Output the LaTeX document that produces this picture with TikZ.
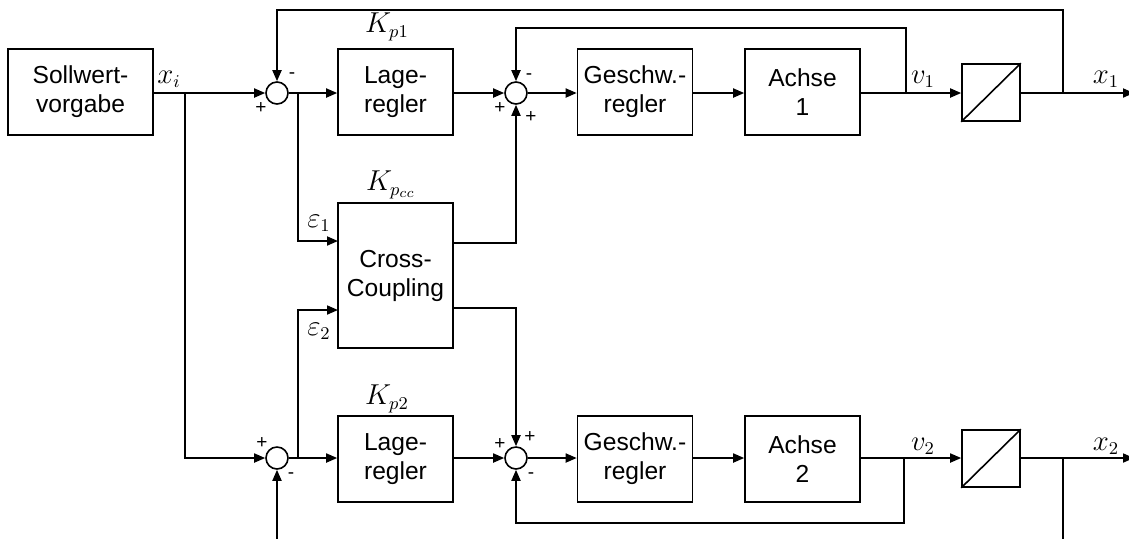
\documentclass[tikz,border=0pt]{standalone}
\usepackage{fontspec}
\setmainfont{Liberation Sans}
\usetikzlibrary{arrows.meta}
\begin{document}
\begin{tikzpicture}[x=0.5pt,y=-0.5pt,
  font=\fontsize{12.3}{14.5}\selectfont,
  blk/.style={draw,line width=0.8pt,minimum width=57.5pt,minimum height=43pt,align=center,inner sep=1pt},
  sumc/.style={draw,circle,line width=0.8pt,minimum size=11pt,inner sep=0pt},
  conv/.style={draw,line width=0.8pt,minimum width=29pt,minimum height=28.5pt,inner sep=0pt},
  ln/.style={line width=0.9pt},
  arr/.style={ln,-{Triangle[length=5.5pt,width=4.5pt]}},
  sgn/.style={font=\fontsize{9.5}{10}\selectfont,inner sep=0pt},
  lbl/.style={inner sep=0pt,font=\fontsize{13.5}{15}\selectfont}]
\useasboundingbox (0,0) rectangle (1129,538);
% blocks
\node[blk,minimum width=72.5pt] (soll) at (80.5,92) {Sollwert-\\vorgabe};
\node[sumc] (s1) at (277,93) {};
\node[blk] (lage1) at (395.5,92) {Lage-\\regler};
\node[sumc] (s3) at (516,93) {};
\node[blk] (gesch1) at (635,92) {Geschw.-\\regler};
\node[blk] (achse1) at (802.5,92) {Achse\\1};
\node[conv] (conv1) at (991,92.5) {};
\draw[line width=0.8pt] (conv1.south west) -- (conv1.north east);
\node[blk,minimum height=72.5pt] (cc) at (395.5,275.5) {Cross-\\Coupling};
\node[sumc] (s2) at (277,458) {};
\node[blk] (lage2) at (395.5,459) {Lage-\\regler};
\node[sumc] (s4) at (516,458) {};
\node[blk] (gesch2) at (635,459) {Geschw.-\\regler};
\node[blk] (achse2) at (802.5,459) {Achse\\2};
\node[conv] (conv2) at (991,458.5) {};
\draw[line width=0.8pt] (conv2.south west) -- (conv2.north east);
% coordinates
\coordinate (b0) at (185,93);
\coordinate (b1) at (298,93);
\coordinate (b2) at (298,458);
\coordinate (v1b) at (906,93);
\coordinate (x1b) at (1063,93);
\coordinate (v2b) at (904,458);
\coordinate (x2b) at (1063,458);
\coordinate (cci1) at (338,241);
\coordinate (cci2) at (338,310);
\coordinate (cco1) at (453,243);
\coordinate (cco2) at (453,308);
\coordinate (out1) at (1134,93);
\coordinate (out2) at (1134,458);
\coordinate (in2) at (277,545);
\coordinate (x2d) at (1063,545);
% top row
\draw[arr] (soll.east |- s1) -- (s1.west);
\draw[arr] (s1.east) -- (lage1.west |- s1);
\draw[arr] (lage1.east |- s3) -- (s3.west);
\draw[arr] (s3.east) -- (gesch1.west |- s3);
\draw[arr] (gesch1.east |- s3) -- (achse1.west |- s3);
\draw[arr] (achse1.east |- s3) -- (conv1.west |- s3);
\draw[arr] (conv1.east |- s3) -- (out1);
\draw[arr] (v1b) -- (906,28) -| (s3.north);
\draw[arr] (x1b) -- (1063,10) -| (s1.north);
% branches
\draw[arr] (b0) |- (s2.west);
\draw[arr] (b1) |- (cci1);
\draw[arr] (b2) |- (cci2);
\draw[arr] (cco1) -| (s3.south);
\draw[arr] (cco2) -| (s4.north);
% bottom row
\draw[arr] (in2) -- (s2.south);
\draw[arr] (s2.east) -- (lage2.west |- s2);
\draw[arr] (lage2.east |- s4) -- (s4.west);
\draw[arr] (s4.east) -- (gesch2.west |- s4);
\draw[arr] (gesch2.east |- s4) -- (achse2.west |- s4);
\draw[arr] (achse2.east |- s4) -- (conv2.west |- s4);
\draw[arr] (conv2.east |- s4) -- (out2);
\draw[arr] (v2b) -- (904,523) -| (s4.south);
\draw[ln] (x2b) -- (x2d);
% labels
\node[lbl] (lxi) at (169,79) {$x_i$};
\node[lbl] (lkp1) at (387,27) {$K_{p1}$};
\node[lbl] (lkpcc) at (391,185) {$K_{p_{cc}}$};
\node[lbl] (lkp2) at (387,399) {$K_{p2}$};
\node[lbl] (le1) at (319,223) {$\varepsilon_1$};
\node[lbl] (le2) at (319,331) {$\varepsilon_2$};
\node[lbl] (lv1) at (923,79) {$v_1$};
\node[lbl] (lx1) at (1106,79) {$x_1$};
\node[lbl] (lv2) at (923,446) {$v_2$};
\node[lbl] (lx2) at (1106,446) {$x_2$};
% signs
\node[sgn] (p1a) at (261,108) {+};
\node[sgn] (m1a) at (292,76) {-};
\node[sgn] (p3a) at (500,108) {+};
\node[sgn] (m3a) at (529,77) {-};
\node[sgn] (p3b) at (531,117) {+};
\node[sgn] (p2a) at (262,443) {+};
\node[sgn] (m2a) at (291,476) {-};
\node[sgn] (p4a) at (500,444) {+};
\node[sgn] (p4b) at (530,437) {+};
\node[sgn] (m4a) at (531,476) {-};
\end{tikzpicture}
\end{document}
